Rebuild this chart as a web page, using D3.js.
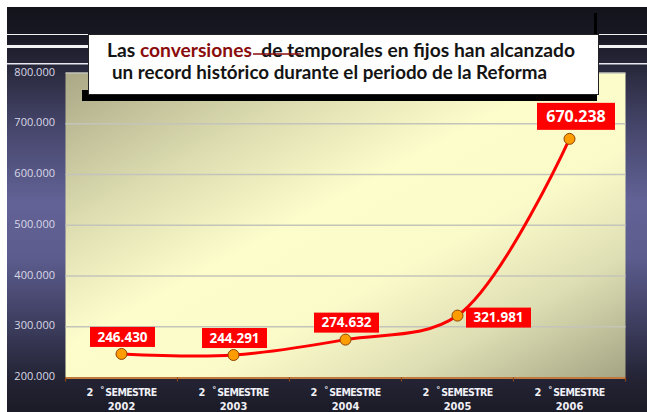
<!DOCTYPE html>
<html>
<head>
<meta charset="utf-8">
<script src="https://cdn.jsdelivr.net/npm/d3@7"></script>
<style>
  html, body { margin: 0; padding: 0; background: #fff; }
  svg { display: block; }
</style>
</head>
<body>
<svg class="chart_svg" width="647" height="412"></svg>
<script>
// data
const categories = ["2002", "2003", "2004", "2005", "2006"]
const semesterText = "SEMESTRE"
const values = [246430, 244291, 274632, 321981, 670238]
const yTicks = [200000, 300000, 400000, 500000, 600000, 700000, 800000]
const titleLine1 = ["Las ", "conversiones", "  de temporales en fijos han alcanzado"]
const titleLine2 = "un record histórico durante el periodo de la Reforma"

const svg = d3.select(".chart_svg")
const W = 647, H = 412
const plot = {left: 65.5, right: 625.5, top: 73, bottom: 377.5}

// number format with "." as thousands separator
const locale = d3.formatLocale({decimal: ",", thousands: ".", grouping: [3], currency: ["", ""]})
const numberFormat = locale.format(",.0f")

const defs = svg.append("defs")

// dark purple background
const bgGrad = defs.append("linearGradient")
    .attr("id", "bg-gradient")
    .attr("x1", "0%").attr("x2", "0%")
    .attr("y1", "0%").attr("y2", "100%")
const bgStops = [[0, "#13131b"], [0.07, "#181824"], [0.14, "#262639"], [0.3, "#46466c"], [0.48, "#626296"], [0.62, "#5c5c8e"], [0.8, "#3a3a5a"], [0.92, "#232334"], [1, "#1b1b27"]]
bgStops.forEach(s => bgGrad.append("stop").attr("offset", s[0]).attr("stop-color", s[1]))

// plot area: olive corners, pale yellow in the middle
const plotGrad = defs.append("linearGradient")
    .attr("id", "plot-gradient")
    .attr("x1", "0%").attr("x2", "100%")
    .attr("y1", "0%").attr("y2", "100%")
const plotStops = [[0, "#aaa886"], [0.25, "#dcdcb0"], [0.45, "#fdfdcc"], [0.62, "#fbfbca"], [0.8, "#dedeb4"], [1, "#a4a484"]]
plotStops.forEach(s => plotGrad.append("stop").attr("offset", s[0]).attr("stop-color", s[1]))

svg.append("rect")
    .attr("x", 7).attr("y", 7)
    .attr("width", W - 7).attr("height", H - 7)
    .style("fill", "url(#bg-gradient)")

// white stripes behind the title
svg.append("rect").attr("x", 7).attr("y", 34).attr("width", W - 7).attr("height", 1).style("fill", "#f2f2f2")
svg.append("rect").attr("x", 7).attr("y", 45).attr("width", W - 7).attr("height", 3).style("fill", "#f2f2f2")
svg.append("rect").attr("x", 7).attr("y", 63).attr("width", W - 7).attr("height", 1.5).style("fill", "#e8e8ee")

// scales
const x = d3.scaleBand()
    .domain(categories)
    .range([plot.left, plot.right])

const y = d3.scaleLinear()
    .domain([200000, 800000])
    .range([plot.bottom, plot.top])

svg.append("rect")
    .attr("x", plot.left).attr("y", plot.top)
    .attr("width", plot.right - plot.left)
    .attr("height", plot.bottom - plot.top)
    .style("fill", "url(#plot-gradient)")

// gridlines
svg.append("g")
    .selectAll("line")
    .data(yTicks.slice(1))
    .join("line")
    .attr("x1", plot.left).attr("x2", plot.right)
    .attr("y1", d => y(d)).attr("y2", d => y(d))
    .style("stroke", "#c4c4ba")
    .style("stroke-width", 1.5)

// y axis labels
const yAxis = d3.axisLeft(y)
    .tickValues(yTicks)
    .tickSize(0)
    .tickFormat(d => numberFormat(d))
svg.append("g")
    .attr("class", "y axis")
    .attr("transform", "translate(55, -1.5)")
    .call(yAxis)
    .call(g => g.select(".domain").remove())
    .selectAll("text")
    .attr("x", 0)
    .style("font-family", "'Open Sans', sans-serif")
    .style("font-size", "11px")
    .style("fill", "#d8d8e6")

// x axis line and ticks at the band edges
svg.append("line")
    .attr("x1", plot.left).attr("x2", plot.right)
    .attr("y1", plot.bottom + 0.5).attr("y2", plot.bottom + 0.5)
    .style("stroke", "#c07a3e")
    .style("stroke-width", 2)
const edges = categories.map(c => x(c)).concat([x(categories[categories.length - 1]) + x.bandwidth()])
svg.append("g")
    .selectAll("line")
    .data(edges)
    .join("line")
    .attr("x1", d => d).attr("x2", d => d)
    .attr("y1", plot.bottom).attr("y2", plot.bottom + 4)
    .style("stroke", "#8a4416")
    .style("stroke-width", 1.2)

// x labels: "2 °SEMESTRE" / year
const xLab = svg.append("g").attr("class", "x axis")
    .selectAll("g")
    .data(categories)
    .join("g")
    .attr("transform", d => `translate(${x(d) + x.bandwidth() / 2}, 0)`)
const line1 = xLab.append("text")
    .attr("y", 396)
    .attr("text-anchor", "middle")
    .style("font-family", "'DejaVu Sans Condensed', 'Liberation Sans Narrow', sans-serif")
    .style("font-weight", "bold")
    .style("fill", "#f0f0f6")
line1.append("tspan").style("font-size", "11px").text("2")
line1.append("tspan").attr("dx", 7).attr("dy", -3).style("font-size", "9px").text("°")
line1.append("tspan").attr("dx", 1).attr("dy", 3).style("font-size", "10.5px").style("letter-spacing", "-0.6px").text(semesterText)
xLab.append("text")
    .attr("y", 410)
    .attr("text-anchor", "middle")
    .style("font-family", "'DejaVu Sans Condensed', sans-serif")
    .style("font-weight", "bold")
    .style("font-size", "11px")
    .style("fill", "#f0f0f6")
    .text(d => d)

// the series
const pts = categories.map((c, i) => ({cat: c, value: values[i]}))
const line = d3.line()
    .x(d => x(d.cat) + x.bandwidth() / 2)
    .y(d => y(d.value))
    .curve(d3.curveCatmullRom.alpha(0.5))

svg.append("path")
    .datum(pts)
    .attr("d", line)
    .style("fill", "none")
    .style("stroke", "#ff0000")
    .style("stroke-width", 3)

svg.append("g")
    .selectAll("circle")
    .data(pts)
    .join("circle")
    .attr("cx", d => x(d.cat) + x.bandwidth() / 2)
    .attr("cy", d => y(d.value))
    .attr("r", 5.5)
    .style("fill", "#ff9c00")
    .style("stroke", "#8c4200")
    .style("stroke-width", 1)

// value labels in red boxes
const labels = svg.append("g")
    .selectAll("g")
    .data(pts)
    .join("g")
    .attr("transform", (d, i) => {
        const px = x(d.cat) + x.bandwidth() / 2, py = y(d.value)
        if (i === pts.length - 1) return `translate(${px + 6.5}, ${py - 22.5})`
        if (i === 3) return `translate(${px + 41}, ${py + 2})`
        return `translate(${px + 1}, ${py - 17})`
    })
labels.append("rect")
    .attr("x", (d, i) => i === pts.length - 1 ? -39 : -32.5)
    .attr("y", (d, i) => i === pts.length - 1 ? -13.5 : -10)
    .attr("width", (d, i) => i === pts.length - 1 ? 78 : 65)
    .attr("height", (d, i) => i === pts.length - 1 ? 27 : 20)
    .style("fill", "#ff0000")
labels.append("text")
    .attr("text-anchor", "middle")
    .attr("dy", "0.36em")
    .style("font-family", "'Open Sans', sans-serif")
    .style("font-weight", "bold")
    .style("font-size", (d, i) => i === pts.length - 1 ? "16px" : "13.5px")
    .style("fill", "#ffffff")
    .text(d => numberFormat(d.value))

// title box
svg.append("rect").attr("x", 594).attr("y", 13).attr("width", 3).attr("height", 22).style("fill", "#000")
svg.append("rect").attr("x", 82).attr("y", 90).attr("width", 515).attr("height", 11).style("fill", "#000")
svg.append("rect")
    .attr("x", 88.5).attr("y", 34.5)
    .attr("width", 510).attr("height", 60)
    .style("fill", "#ffffff")
    .style("stroke", "#222")
    .style("stroke-width", 1)

const t1 = svg.append("text")
    .attr("x", 107).attr("y", 57)
    .attr("textLength", 468)
    .attr("lengthAdjust", "spacingAndGlyphs")
    .style("font-family", "Lato, sans-serif")
    .style("font-weight", "bold")
    .style("font-size", "19.5px")
    .style("fill", "#141414")
t1.selectAll("tspan")
    .data(titleLine1)
    .join("tspan")
    .style("fill", (d, i) => i === 1 ? "#8a0c0c" : "#141414")
    .style("white-space", "pre")
    .text(d => d)

svg.append("line")
    .attr("x1", 253).attr("x2", 301)
    .attr("y1", 54).attr("y2", 54)
    .style("stroke", "#8a0c0c")
    .style("stroke-width", 1.5)

svg.append("text")
    .attr("x", 112).attr("y", 79)
    .attr("textLength", 435)
    .attr("lengthAdjust", "spacingAndGlyphs")
    .style("font-family", "Lato, sans-serif")
    .style("font-weight", "bold")
    .style("font-size", "19.5px")
    .style("fill", "#141414")
    .text(titleLine2)
</script>
</body>
</html>
